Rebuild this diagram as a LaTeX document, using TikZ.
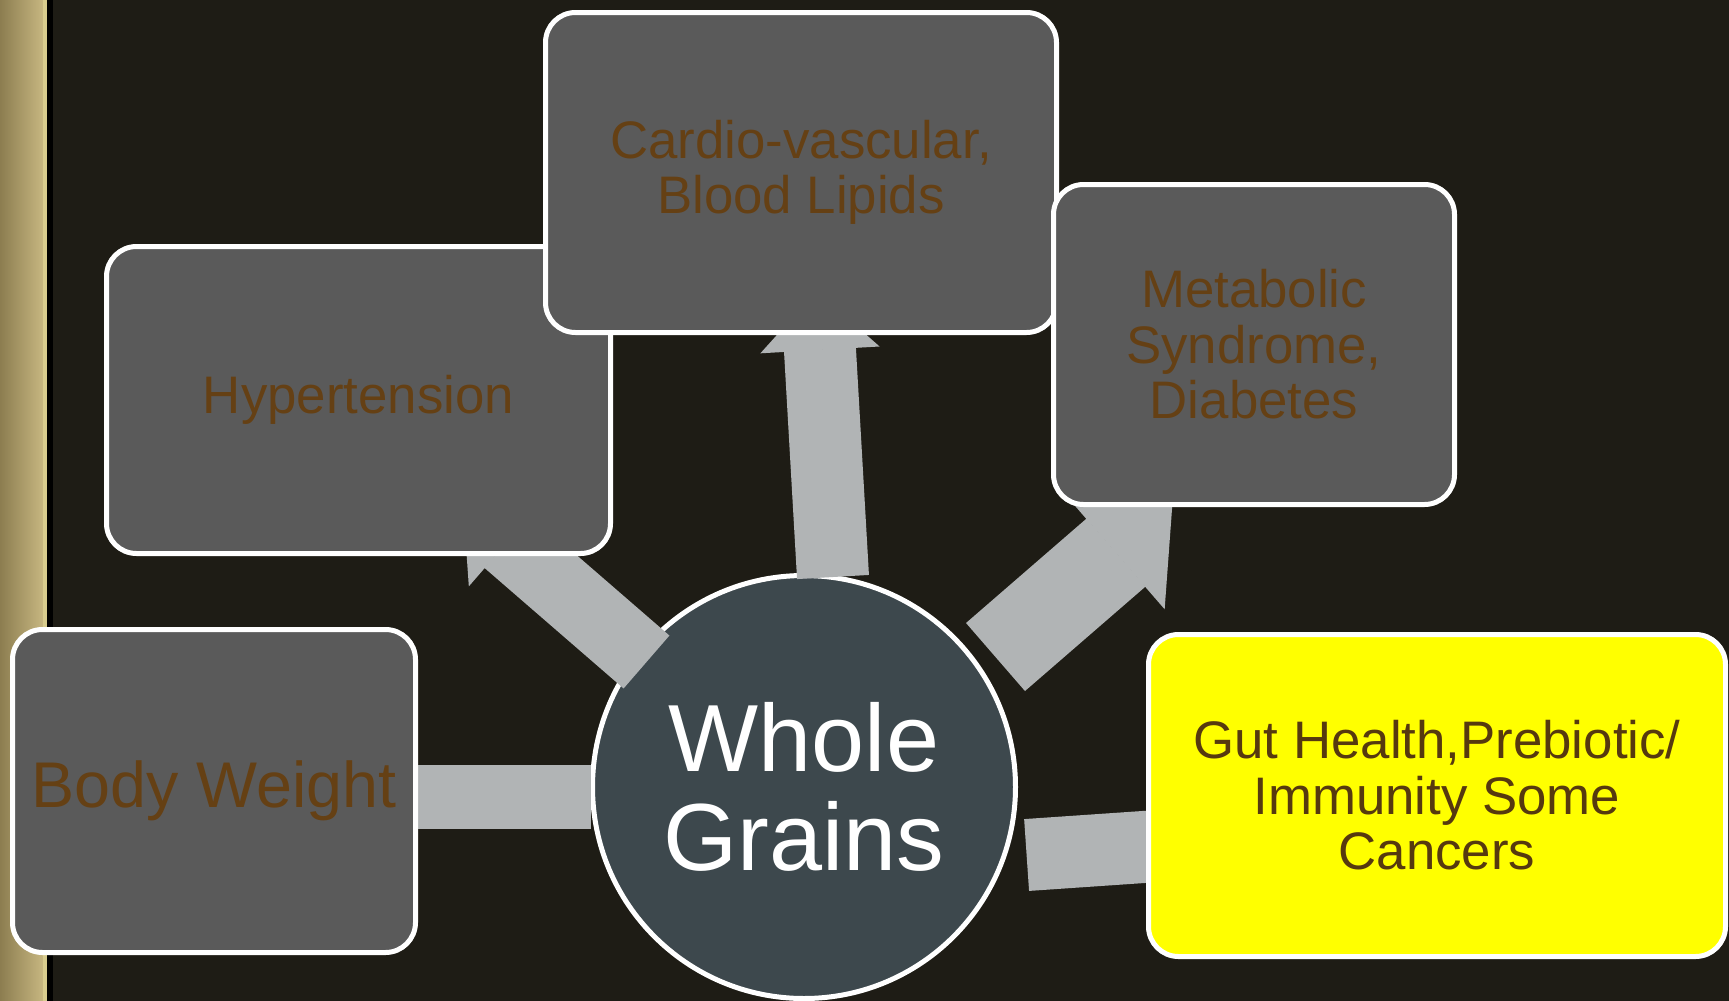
\documentclass[tikz,border=0pt]{standalone}
\usepackage{fontspec}
\setmainfont{Liberation Sans}
\usepackage{tikz}
\usetikzlibrary{arrows.meta}
\definecolor{grassdark}{HTML}{1E1C15}
\definecolor{strawdark}{HTML}{8C7D50}
\definecolor{strawpale}{HTML}{C6B680}
\definecolor{strawline}{HTML}{D8CC8E}
\definecolor{boxgrey}{HTML}{5A5A5A}
\definecolor{hubslate}{HTML}{3D484D}
\definecolor{spokegrey}{HTML}{B1B4B5}
\definecolor{labelbrown}{HTML}{654014}
\definecolor{gutbrown}{HTML}{56390F}
\definecolor{highlight}{HTML}{FFFF00}
\pgfdeclarelayer{back}
\pgfdeclarelayer{mid}
\pgfsetlayers{back,mid,main}
\tikzset{
  topic/.style={draw=white, line width=2.5pt, fill=boxgrey, rounded corners=15pt,
    text=labelbrown, align=center, inner sep=0pt,
    font=\fontsize{26.4}{27.7}\selectfont},
  hub/.style={circle, draw=white, line width=2.5pt, fill=hubslate, text=white,
    align=center, inner sep=0pt, minimum size=211.5pt,
    font=\fontsize{47.7}{49.7}\selectfont},
  spoke/.style={draw=spokegrey, line width=#1, line cap=butt}
}

\begin{document}
\begin{tikzpicture}[x=0.5pt, y=-0.5pt]
  \useasboundingbox (0,0) rectangle (1729,1001);
  \begin{pgfonlayer}{back}
    \fill[grassdark] (0,0) rectangle (1729,1001);
    \shade[left color=strawdark, right color=strawpale] (0,0) rectangle (43,1001);
    \fill[strawline] (43,0) rectangle (47,1001);
    \fill[black] (47,0) rectangle (53,1001);
    \node[hub] (hub) at (804,787) {Whole\\Grains};
  \end{pgfonlayer}

  \node[topic, minimum width=201.5pt, minimum height=161.5pt,
    font=\fontsize{32.3}{34}\selectfont] (body) at (214,791) {Body Weight};
  \node[topic, minimum width=252pt, minimum height=153.5pt] (hyp) at (358.5,400) {Hypertension};
  \node[topic, minimum width=255.5pt, minimum height=160pt] (cardio) at (801,172.5)
    {Cardio-vascular,\\Blood Lipids};
  \node[topic, minimum width=200.5pt, minimum height=160pt] (meta) at (1254,344.5)
    {Metabolic\\Syndrome,\\Diabetes};
  \node[topic, fill=highlight, text=gutbrown, minimum width=288.5pt, minimum height=161pt]
    (gut) at (1437,795.5) {Gut Health,Prebiotic/\\Immunity Some\\Cancers};

  \begin{pgfonlayer}{mid}
    \draw[spoke=32pt] ([shift={(196,6)}]body.center) -- ([shift={(-213,10)}]hub.center);
    \draw[spoke=35pt, -{Triangle[width=59pt, length=29.5pt, line width=1pt]}]
      ([shift={(-157.5,-125)}]hub.center) -- ([shift={(104.5,103)}]hyp.center);
    \draw[spoke=36pt, -{Triangle[width=59.5pt, length=29.5pt, line width=1pt]}]
      ([shift={(29,-210)}]hub.center) -- ([shift={(15.6,118.5)}]cardio.center);
    \draw[spoke=45pt, -{Triangle[width=74.5pt, length=37.5pt, line width=1pt]}]
      ([shift={(191.5,-130)}]hub.center) -- ([shift={(-81.6,159.2)}]meta.center);
    \draw[spoke=36pt] ([shift={(222.6,68)}]hub.center) -- ([shift={(-257,49)}]gut.center);
  \end{pgfonlayer}
\end{tikzpicture}
\end{document}
